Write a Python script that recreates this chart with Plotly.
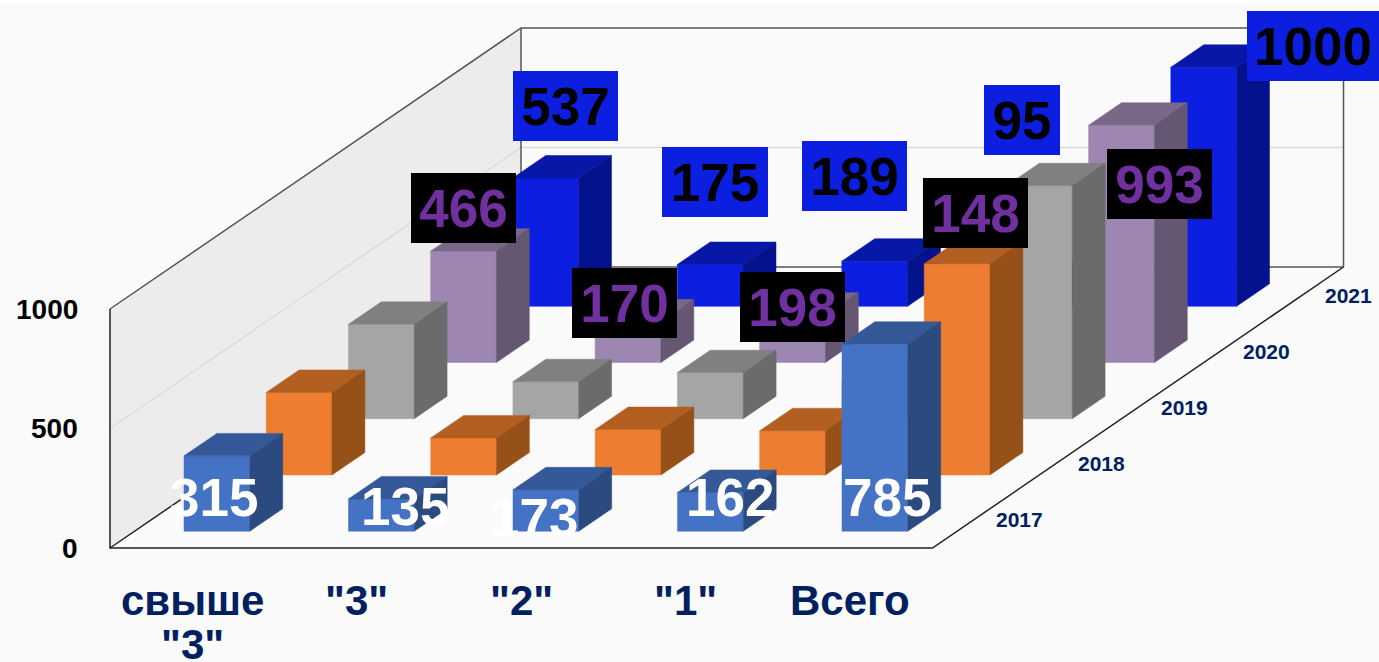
import plotly.graph_objects as go

# ---------- data ----------
categories = ['свыше|"3"', '"3"', '"2"', '"1"', 'Всего']
years = ["2017", "2018", "2019", "2020", "2021"]
v2017 = [315, 135, 173, 162, 782]
v2018 = [345, 155, 190, 185, 884]
v2019 = [395, 155, 193, 160, 975]
v2020 = [466, 170, 198, 148, 993]
v2021 = [537, 175, 189, 95, 1000]
series = [v2017, v2018, v2019, v2020, v2021]
labels_2017 = [315, 135, 173, 162, 785]
y_ticks = [0, 500, 1000]

# ---------- style ----------
front = ["#4472C4", "#ED7D31", "#A5A5A5", "#9E86B2", "#0C1FE0"]
top = ["#355898", "#B35F22", "#808080", "#7B6888", "#0717A8"]
side = ["#2B4A80", "#965119", "#6B6B6B", "#655672", "#05128E"]
NAVY = "#002060"
FONT = "Liberation Sans"
W, H = 1379, 662

# oblique projection: one category = 164.5 px, 1 unit of value = 0.239 px,
# one series step in depth moves 82.2 px right and 56.2 px up
PX_CAT, PX_VAL = 164.5, 0.239
DX, DY = 82.2 / PX_CAT, 56.2 / PX_VAL
ZMAX = 1000
X0, Y0 = 110, 548
N_C, N_S = len(categories), len(years)


def P(u, v, z):
    return u + DX * v, z + DY * v


def poly(pts):
    xs, ys = zip(*[P(*p) for p in pts])
    return list(xs) + [xs[0]], list(ys) + [ys[0]]


x_range = [(0 - X0) / PX_CAT, (W - X0) / PX_CAT]
y_range = [(Y0 - H) / PX_VAL, Y0 / PX_VAL]

fig = go.Figure()


def area(pts, color):
    x, y = poly(pts)
    fig.add_trace(go.Scatter(x=x, y=y, mode="lines", fill="toself", fillcolor=color,
                             line=dict(color=color, width=0), hoverinfo="skip", showlegend=False))


def line(pts, color, width=1.5):
    xs, ys = zip(*[P(*p) for p in pts])
    fig.add_trace(go.Scatter(x=xs, y=ys, mode="lines", line=dict(color=color, width=width),
                             hoverinfo="skip", showlegend=False))


# walls and floor
area([(0, 0, 0), (0, N_S, 0), (0, N_S, ZMAX), (0, 0, ZMAX)], "#ECECEC")
line([(0, 0, 500), (0, N_S, 500), (N_C, N_S, 500)], "#DADADA", 1.3)
line([(0, 0, ZMAX), (0, N_S, ZMAX), (N_C, N_S, ZMAX), (N_C, N_S, 0)], "#555555", 1.5)
line([(0, N_S, ZMAX), (0, N_S, 0), (N_C, N_S, 0)], "#555555", 1.5)
line([(0, 0, ZMAX), (0, 0, 0), (N_C, 0, 0), (N_C, N_S, 0)], "#222222", 1.5)
line([(0, 0, 0), (0, N_S, 0)], "#222222", 1.5)

# bars, back to front
BW = 0.2
for s in range(N_S - 1, -1, -1):
    for face, colors in (("front", front), ("top", top), ("side", side)):
        xs, ys = [], []
        for c in range(N_C):
            val = series[s][c]
            u0, u1 = c + 0.5 - BW, c + 0.5 + BW
            v0, v1 = s + 0.5 - BW, s + 0.5 + BW
            if face == "front":
                pts = [(u0, v0, 0), (u1, v0, 0), (u1, v0, val), (u0, v0, val)]
            elif face == "top":
                pts = [(u0, v0, val), (u1, v0, val), (u1, v1, val), (u0, v1, val)]
            else:
                pts = [(u1, v0, 0), (u1, v1, 0), (u1, v1, val), (u1, v0, val)]
            x, y = poly(pts)
            xs += x + [None]
            ys += y + [None]
        fig.add_trace(go.Scatter(x=xs, y=ys, mode="lines", fill="toself",
                                 fillcolor=colors[s], line=dict(color=colors[s], width=0.5),
                                 hoverinfo="skip", showlegend=False))

# value-axis labels
for t in y_ticks:
    fig.add_annotation(x=(80 - X0) / PX_CAT, y=t, xref="x", yref="y", text=str(t), showarrow=False,
                       xanchor="right", yanchor="middle",
                       font=dict(family=FONT, size=28, color="black", weight=700))

# category labels
for i, cat in enumerate(categories):
    for j, part in enumerate(cat.split("|")):
        fig.add_annotation(x=i + 0.5, y=(Y0 - (600 + 44 * j)) / PX_VAL, xref="x", yref="y", text=part,
                           showarrow=False, xanchor="center", yanchor="middle",
                           font=dict(family=FONT, size=42, color=NAVY, weight=700))

# depth labels
for s, yr in enumerate(years):
    x, y = P(N_C + 0.28, s + 0.5, 0)
    fig.add_annotation(x=x, y=y, xref="x", yref="y", text=yr, showarrow=False,
                       font=dict(family=FONT, size=21, color=NAVY, weight=700))

# manually placed data labels (centre pixel of each label)
pos_2017 = [(214, 498), (405, 506), (534, 517), (730, 497), (887, 497)]
pos_2020 = [(463.5, 208), (624.5, 303), (792, 307), (975.5, 213), (1159.5, 184)]
pos_2021 = [(565.5, 106), (715, 182), (854.5, 176), (1022, 120), (1313, 46)]
box_w_2021 = [105, 106, 105, 76, 132]


def label(val, p, color, bg=None, w=105):
    kw = dict(bgcolor=bg, width=w, height=70) if bg else {}
    fig.add_annotation(x=p[0] / W, y=1 - p[1] / H, xref="paper", yref="paper", text=str(val),
                       showarrow=False, xanchor="center", yanchor="middle", borderpad=0, borderwidth=0,
                       font=dict(family=FONT, size=53, color=color, weight=700), **kw)


for val, p in zip(labels_2017, pos_2017):
    label(val, p, "white")
for val, p in zip(v2020, pos_2020):
    label(val, p, "#7030A0", "#000000")
for val, p, w in zip(v2021, pos_2021, box_w_2021):
    label(val, p, "#000000", "#0C1FE0", w)

fig.update_layout(
    width=W, height=H, margin=dict(l=0, r=0, t=0, b=0), autosize=False,
    paper_bgcolor="white", plot_bgcolor="rgba(0,0,0,0)", showlegend=False,
    xaxis=dict(range=x_range, visible=False, fixedrange=True),
    yaxis=dict(range=y_range, visible=False, fixedrange=True),
    shapes=[dict(type="rect", xref="paper", yref="paper", x0=0, x1=1, y0=0, y1=1 - 4 / H,
                 fillcolor="#FAFAFA", line_width=0, layer="below")],
)
fig.write_html("out.html", config={"displayModeBar": False},
               post_script="document.body.style.margin='0';document.documentElement.style.overflow='hidden';")
